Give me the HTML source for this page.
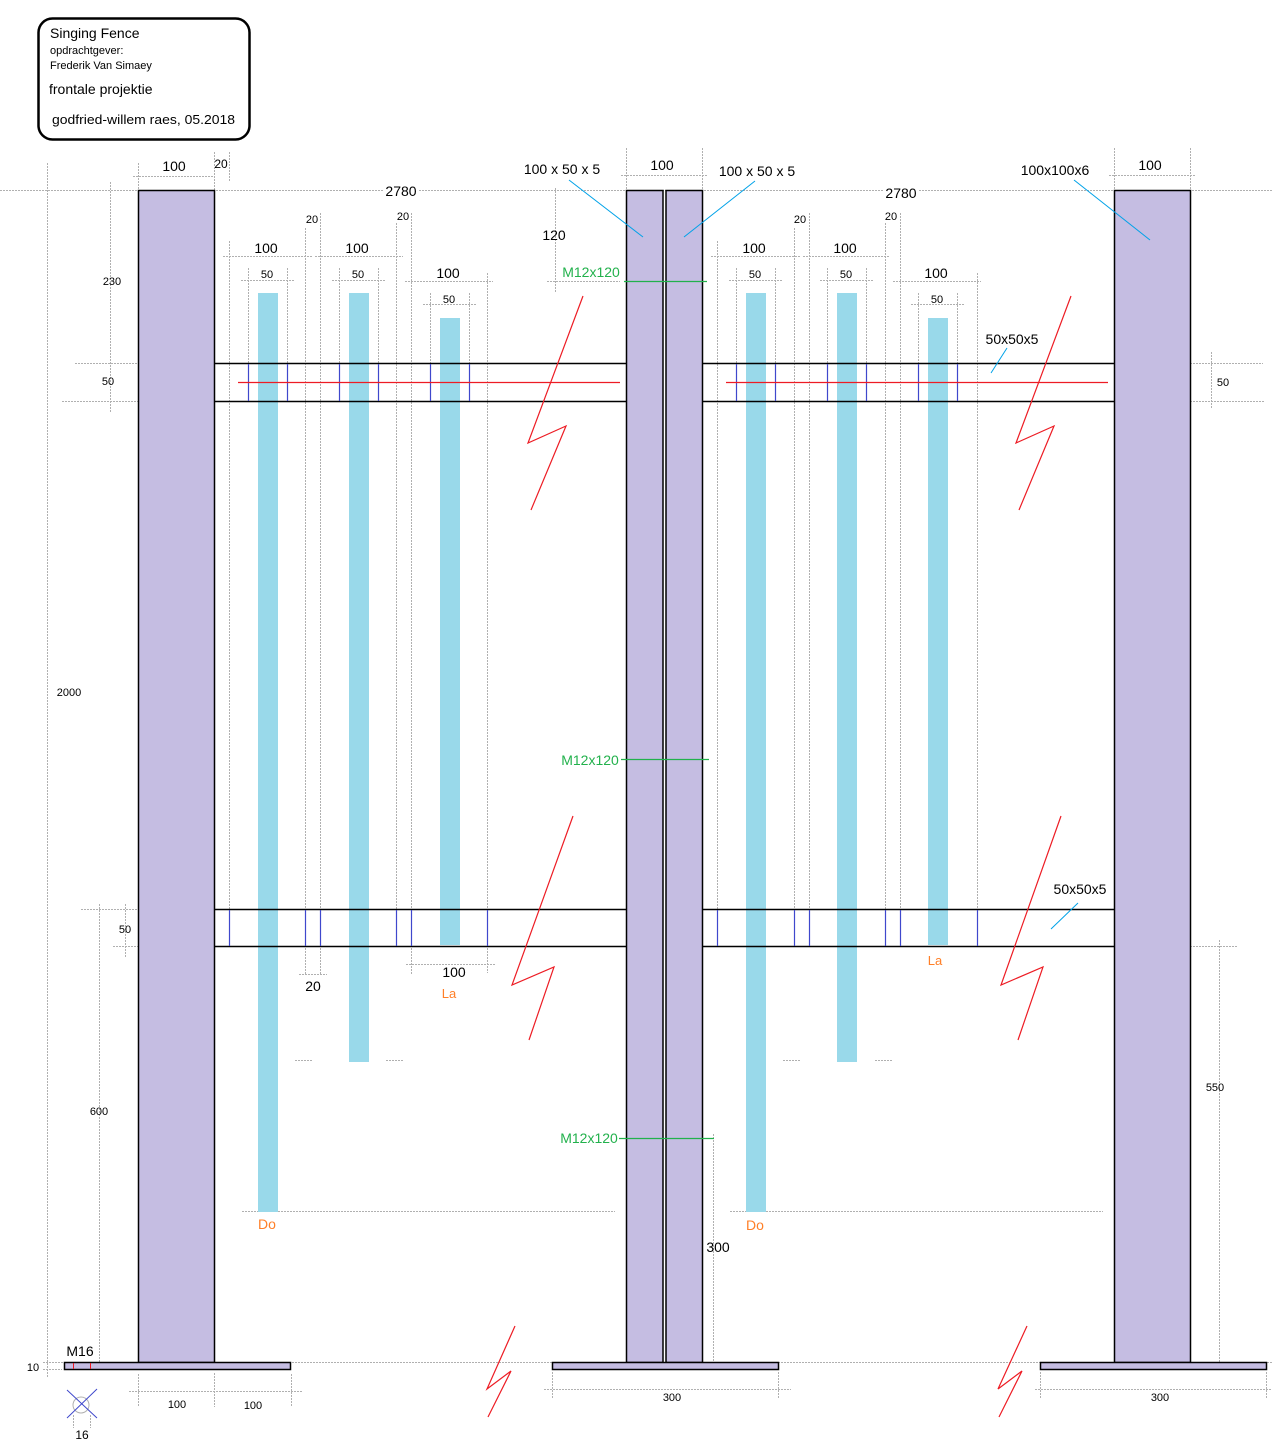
<!DOCTYPE html>
<html><head><meta charset="utf-8"><style>
html,body{margin:0;padding:0;background:#fff;}
svg{display:block;font-family:"Liberation Sans",sans-serif;}
</style></head><body>
<svg width="1284" height="1454" viewBox="0 0 1284 1454" xmlns="http://www.w3.org/2000/svg">
<rect width="1284" height="1454" fill="#fff"/>
<!-- grey dimension lines -->
<g stroke="#b0b0b0" stroke-width="1" stroke-dasharray="2 1" fill="none">
<path d="M0 190.5H383M419 190.5H883M919 190.5H1272"/>
<path d="M43 1362.5H1272"/>
<path d="M133 176.5H214M138.5 163V190M214.5 152V190M229.5 152V182"/>
<path d="M229.5 241V909M305.5 228V975M320.5 213V975M396.5 223V909M411.5 213V975M487.5 273V973"/>
<path d="M223 256.5H312M315 256.5H403M405 281.5H493"/>
<path d="M248.5 268V363M287.5 268V363M339.5 268V363M378.5 268V363M430.5 293V363M469.5 293V363"/>
<path d="M241 280.5H295M332 280.5H386M423 304.5H477"/>
<path d="M110.5 182V413M75 363.5H138M62 401.5H138"/>
<path d="M47.5 163V1377"/>
<path d="M99.5 904V1362M81 909.5H138M125.5 904V957M113 946.5H214"/>
<path d="M299 974.5H327M406 964.5H495"/>
<path d="M295 1060.5H312M386 1060.5H403M783 1060.5H800M875 1060.5H892"/>
<path d="M242 1211.5H615M730 1211.5H1103"/>
<path d="M621 175.5H707M626.5 148V190M702.5 148V190"/>
<path d="M555.5 188V293M547 281.5H620"/>
<path d="M713.5 1134V1362"/>
<path d="M717.5 241V909M794.5 228V909M809.5 213V909M885.5 223V909M900.5 213V909M977.5 273V909"/>
<path d="M711 256.5H800M803 256.5H890M893 281.5H981"/>
<path d="M736.5 268V363M775.5 268V363M827.5 268V363M866.5 268V363M918.5 293V363M957.5 293V363"/>
<path d="M729 280.5H783M820 280.5H874M911 304.5H965"/>
<path d="M1109 175.5H1195M1114.5 148V190M1190.5 148V190"/>
<path d="M1211.5 352V409M1190 363.5H1263M1190 401.5H1264"/>
<path d="M1219.5 940V1362M1190 946.5H1237"/>
<path d="M129 1391.5H302M138.5 1374V1407M214.5 1373V1407M291.5 1374V1406"/>
<path d="M73.5 1415V1428M90.5 1415V1428"/>
<path d="M43 1369.5H62"/>
<path d="M544 1389.5H791M552.5 1372V1398M778.5 1372V1398"/>
<path d="M1035 1389.5H1272M1040.5 1372V1398M1266.5 1372V1398"/>
</g>
<circle cx="81" cy="1405" r="8" fill="none" stroke="#b0b0b0" stroke-width="1"/>
<path d="M67 1390L97 1418M97 1389L67 1418" stroke="#3f48cc" stroke-width="1"/>

<!-- title box -->
<rect x="38.5" y="18.5" width="211" height="121" rx="14" fill="#fff" stroke="#000" stroke-width="2.5"/>
<g fill="#000">
<text x="50" y="38" font-size="14">Singing Fence</text>
<text x="50" y="54" font-size="11">opdrachtgever:</text>
<text x="50" y="69" font-size="11">Frederik Van Simaey</text>
<text x="49" y="94" font-size="14">frontale projektie</text>
<text x="52" y="124" font-size="13" textLength="183" lengthAdjust="spacingAndGlyphs">godfried-willem raes, 05.2018</text>
</g>

<!-- bars -->
<g fill="#99d9ea">
<rect x="258" y="293" width="20" height="919"/>
<rect x="349" y="293" width="20" height="769"/>
<rect x="440" y="318" width="20" height="627"/>
<rect x="746" y="293" width="20" height="919"/>
<rect x="837" y="293" width="20" height="769"/>
<rect x="928" y="318" width="20" height="627"/>
</g>

<!-- posts -->
<g fill="#c5bde2" stroke="#000" stroke-width="1.5">
<rect x="138.5" y="190.5" width="76" height="1172"/>
<rect x="626.5" y="190.5" width="36.5" height="1172"/>
<rect x="666" y="190.5" width="36.5" height="1172"/>
<rect x="1114.5" y="190.5" width="76" height="1172"/>
<rect x="64.5" y="1362.5" width="226" height="7"/>
<rect x="552.5" y="1362.5" width="226" height="7"/>
<rect x="1040.5" y="1362.5" width="226" height="7"/>
</g>
<path d="M73.5 1363V1369M90.5 1363V1369" stroke="#ed1c24" stroke-width="1"/>

<!-- rails -->
<g stroke="#000" stroke-width="1.5">
<path d="M214 363.5H626M214 401.5H626M702 363.5H1114M702 401.5H1114"/>
<path d="M214 909.5H626M214 946.5H626M702 909.5H1114M702 946.5H1114"/>
</g>
<g stroke="#3f48cc" stroke-width="1.2">
<path d="M248.5 364V401M287.5 364V401M339.5 364V401M378.5 364V401M430.5 364V401M469.5 364V401"/>
<path d="M736.5 364V401M775.5 364V401M827.5 364V401M866.5 364V401M918.5 364V401M957.5 364V401"/>
<path d="M229.5 910V946M305.5 910V946M320.5 910V946M396.5 910V946M411.5 910V946M487.5 910V946"/>
<path d="M717.5 910V946M794.5 910V946M809.5 910V946M885.5 910V946M900.5 910V946M977.5 910V946"/>
</g>
<g stroke="#ed1c24" stroke-width="1.2" fill="none">
<path d="M238 382.5H620M726 382.5H1108"/>
<polyline points="583,296 528,443 566,426 531,510"/>
<polyline points="1071,296 1016,443 1054,426 1019,510"/>
<polyline points="573,816 512,985 554,967 529,1040"/>
<polyline points="1061,816 1001,985 1043,967 1018,1040"/>
<polyline points="515,1326 487,1389 511,1371 488,1417"/>
<polyline points="1027,1326 998,1389 1022,1371 999,1417"/>
</g>
<!-- cyan leaders -->
<g stroke="#00a2e8" stroke-width="1">
<path d="M569 180L643 237M755 181L684 237M1074 180L1150 240M1007 348L991 373M1078 903L1051 929"/>
</g>
<!-- green bolts -->
<g stroke="#22b14c" stroke-width="1.2">
<path d="M624 281.5H707M621 759.5H709M619 1138.5H714"/>
</g>

<!-- labels -->
<g fill="#000" text-anchor="middle">
<text x="174" y="171" font-size="14">100</text>
<text x="221" y="168" font-size="12">20</text>
<text x="401" y="196" font-size="14">2780</text>
<text x="312" y="223" font-size="11">20</text>
<text x="403" y="220" font-size="11">20</text>
<text x="266" y="253" font-size="14">100</text>
<text x="357" y="253" font-size="14">100</text>
<text x="448" y="278" font-size="14">100</text>
<text x="267" y="278" font-size="11">50</text>
<text x="358" y="278" font-size="11">50</text>
<text x="449" y="303" font-size="11">50</text>
<text x="112" y="285" font-size="11">230</text>
<text x="108" y="385" font-size="11">50</text>
<text x="562" y="174" font-size="14">100 x 50 x 5</text>
<text x="662" y="170" font-size="14">100</text>
<text x="757" y="176" font-size="14">100 x 50 x 5</text>
<text x="554" y="240" font-size="14">120</text>
<text x="901" y="198" font-size="14">2780</text>
<text x="1055" y="175" font-size="14">100x100x6</text>
<text x="1150" y="170" font-size="14">100</text>
<text x="800" y="223" font-size="11">20</text>
<text x="891" y="220" font-size="11">20</text>
<text x="754" y="253" font-size="14">100</text>
<text x="845" y="253" font-size="14">100</text>
<text x="936" y="278" font-size="14">100</text>
<text x="755" y="278" font-size="11">50</text>
<text x="846" y="278" font-size="11">50</text>
<text x="937" y="303" font-size="11">50</text>
<text x="1012" y="344" font-size="14">50x50x5</text>
<text x="1223" y="386" font-size="11">50</text>
<text x="69" y="696" font-size="11">2000</text>
<text x="1080" y="894" font-size="14">50x50x5</text>
<text x="125" y="933" font-size="11">50</text>
<text x="313" y="991" font-size="14">20</text>
<text x="454" y="977" font-size="14">100</text>
<text x="1215" y="1091" font-size="11">550</text>
<text x="99" y="1115" font-size="11">600</text>
<text x="718" y="1252" font-size="14">300</text>
<text x="80" y="1356" font-size="14">M16</text>
<text x="33" y="1371" font-size="11">10</text>
<text x="177" y="1408" font-size="11">100</text>
<text x="253" y="1409" font-size="11">100</text>
<text x="672" y="1401" font-size="11">300</text>
<text x="1160" y="1401" font-size="11">300</text>
<text x="82" y="1439" font-size="12">16</text>
</g>
<g fill="#22b14c" text-anchor="middle" font-size="14">
<text x="591" y="277">M12x120</text>
<text x="590" y="765">M12x120</text>
<text x="589" y="1143">M12x120</text>
</g>
<g fill="#ff7f27" text-anchor="middle" font-size="13">
<text x="449" y="998">La</text>
<text x="935" y="965">La</text>
<text x="267" y="1229" font-size="14">Do</text>
<text x="755" y="1230" font-size="14">Do</text>
</g>
</svg>
</body></html>
